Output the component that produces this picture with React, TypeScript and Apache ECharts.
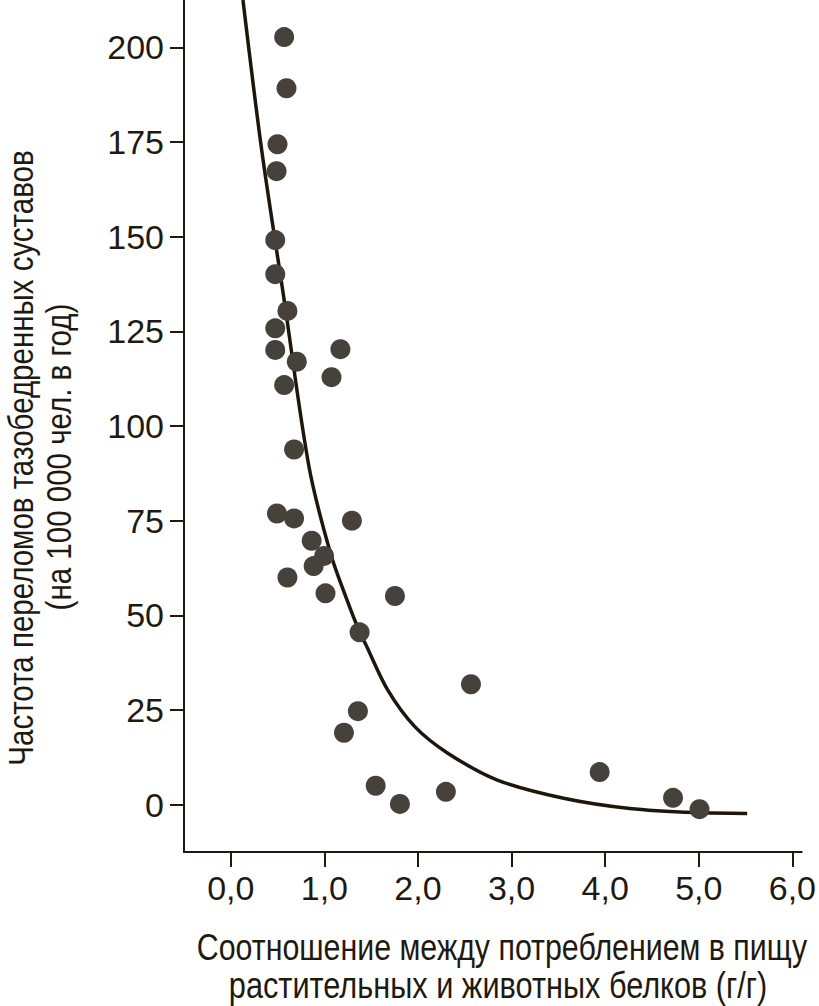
import React, { useEffect, useRef } from "react";
import * as echarts from "echarts";

const pointsX = [0.57, 0.595, 0.499, 0.489, 0.475, 0.475, 0.605, 0.475, 0.475, 1.171, 0.705, 1.076, 0.57, 0.676, 0.493, 0.676, 1.294, 0.864, 0.997, 0.885, 0.605, 1.012, 1.754, 1.376, 2.566, 1.358, 1.209, 3.941, 1.548, 4.725, 1.807, 2.298, 5.008];
const pointsY = [202.7, 189.2, 174.4, 167.3, 149.1, 140.1, 130.4, 125.8, 120.1, 120.3, 117.0, 112.9, 110.8, 93.8, 76.9, 75.6, 75.0, 69.7, 65.7, 63.0, 60.0, 55.8, 55.1, 45.5, 31.8, 24.7, 19.0, 8.6, 5.0, 1.8, 0.2, 3.4, -1.2];

const curveX = [0.13, 0.33, 0.57, 0.835, 1.065, 1.241, 1.376, 1.436, 1.676, 1.966, 2.318, 2.848, 3.556, 4.262, 4.969, 5.517];
const curveY = [212.5, 172.9, 133.3, 89.3, 66.4, 54.1, 45.6, 42.6, 30.3, 20.6, 13.6, 6.5, 1.7, -1.0, -2.1, -2.3];

const xTicks = [0, 1, 2, 3, 4, 5, 6];
const yTicks = [0, 25, 50, 75, 100, 125, 150, 175, 200];

const xTitle = ["Соотношение между потреблением в пищу", "растительных и животных белков (г/г)"];
const yTitle = ["Частота переломов тазобедренных суставов", "(на 100 000 чел. в год)"];

const FONT = "'Liberation Sans', Arial, sans-serif";
const INK = "#1f1a0f";
const TITLE_FONT = `37px ${FONT}`;
const Y_TITLE_FONT = `36px ${FONT}`;

export default function App() {
  const ref = useRef<HTMLDivElement>(null);
  useEffect(() => {
    const chart = echarts.init(ref.current!, null, { renderer: "svg" });
    chart.setOption({
      animation: false,
      backgroundColor: "#ffffff",
      grid: { left: 184, right: 12, top: 0, bottom: 154, containLabel: false },
      xAxis: {
        type: "value",
        min: -0.5,
        max: 6.1,
        splitLine: { show: false },
        axisLine: { show: true, onZero: false, lineStyle: { color: INK, width: 2 } },
        axisTick: { show: true, length: 15, customValues: xTicks, lineStyle: { color: INK, width: 2 } },
        axisLabel: {
          customValues: xTicks,
          margin: 19,
          color: INK,
          fontFamily: FONT,
          fontSize: 34,
          formatter: (v: number) => v.toFixed(1).replace(".", ","),
        },
      },
      yAxis: {
        type: "value",
        min: -12.5,
        max: 212.5,
        splitLine: { show: false },
        axisLine: { show: true, onZero: false, lineStyle: { color: INK, width: 2 } },
        axisTick: { show: true, length: 14, customValues: yTicks, lineStyle: { color: INK, width: 2 } },
        axisLabel: {
          customValues: yTicks,
          margin: 20,
          color: INK,
          fontFamily: FONT,
          fontSize: 34,
        },
      },
      graphic: [
        { type: "text", x: 502, y: 947, scaleX: 0.82, style: { text: xTitle[0], fill: INK, font: TITLE_FONT, textAlign: "center", textVerticalAlign: "middle" } },
        { type: "text", x: 498, y: 985, scaleX: 0.83, style: { text: xTitle[1], fill: INK, font: TITLE_FONT, textAlign: "center", textVerticalAlign: "middle" } },
        { type: "text", x: 20, y: 458, rotation: Math.PI / 2, scaleX: 0.82, style: { text: yTitle[0], fill: INK, font: Y_TITLE_FONT, textAlign: "center", textVerticalAlign: "middle" } },
        { type: "text", x: 58, y: 457, rotation: Math.PI / 2, scaleX: 0.82, style: { text: yTitle[1], fill: INK, font: Y_TITLE_FONT, textAlign: "center", textVerticalAlign: "middle" } },
      ],
      series: [
        {
          type: "line",
          data: curveX.map((x, i) => [x, curveY[i]]),
          smooth: 0.3,
          showSymbol: false,
          symbol: "none",
          clip: true,
          lineStyle: { color: "#1e160c", width: 3.5 },
          z: 2,
        },
        {
          type: "scatter",
          data: pointsX.map((x, i) => [x, pointsY[i]]),
          symbol: "circle",
          symbolSize: 20,
          itemStyle: { color: "#47413b", opacity: 1 },
          z: 3,
        },
      ],
    });
    return () => chart.dispose();
  }, []);
  return <div ref={ref} style={{ position: "fixed", left: 0, top: 0, width: 819, height: 1006 }} />;
}
